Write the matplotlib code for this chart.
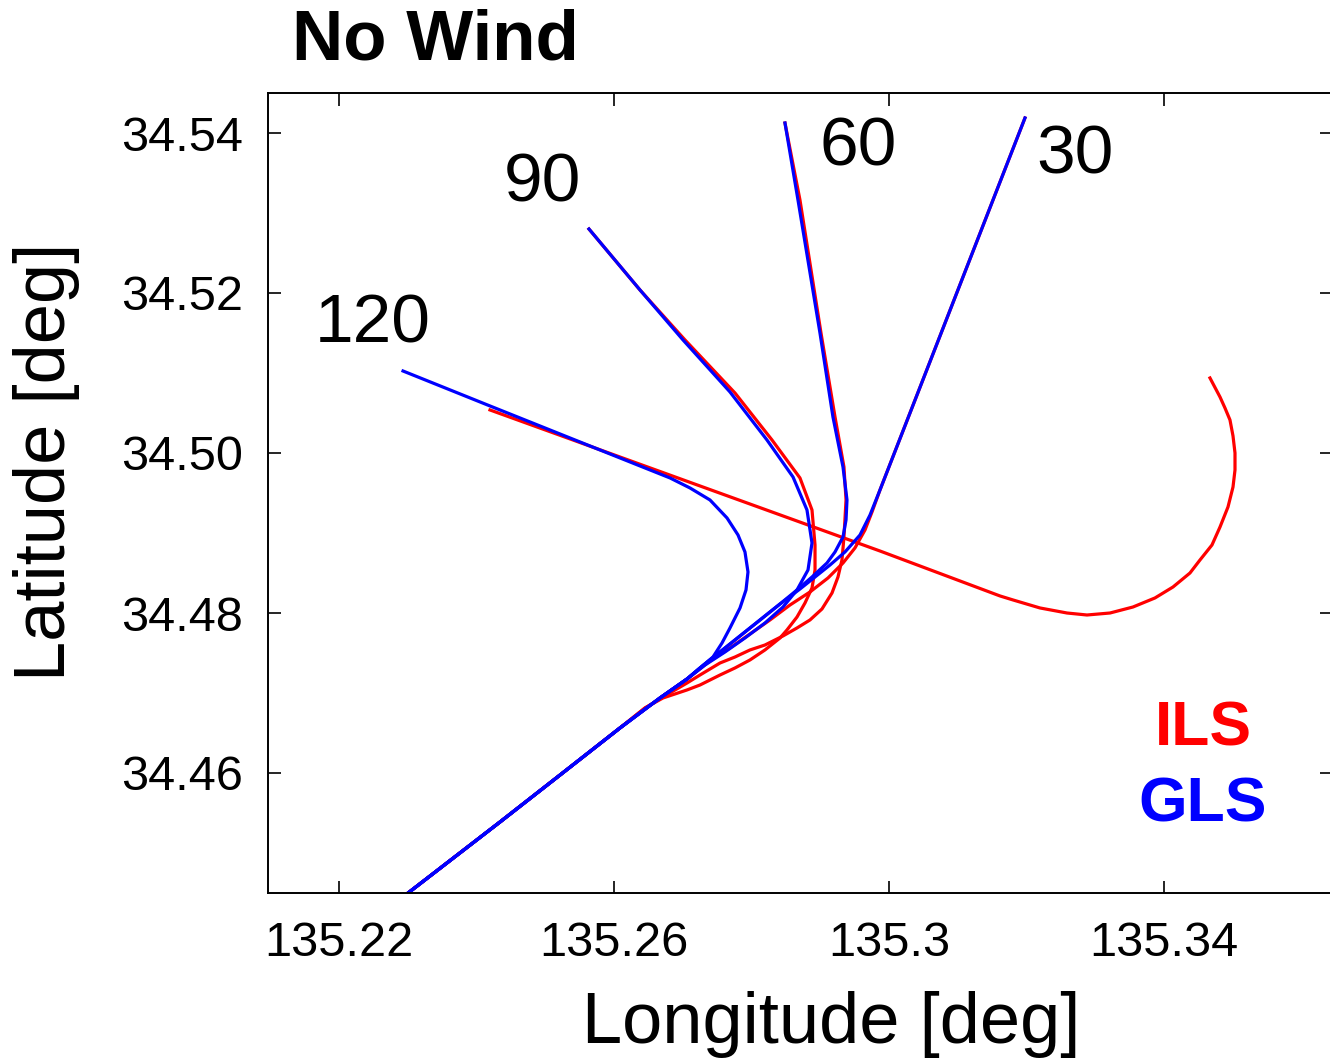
import numpy as np
import matplotlib.pyplot as plt

plt.rcParams['font.family'] = ['Liberation Sans', 'DejaVu Sans']

# shared final approach (from the merge point down past the bottom edge)
approach_lon = [135.27062, 135.26669, 135.26087, 135.25215, 135.24342, 135.23004, 135.22815]
approach_lat = [34.47175, 34.46938, 34.46563, 34.45975, 34.45388, 34.445, 34.44375]

# GLS (blue) trajectories
gls120_lon = [135.22931, 135.24196, 135.25796, 135.26815, 135.27105, 135.27396, 135.27644,
              135.27804, 135.27905, 135.27949, 135.2792, 135.27833, 135.27687, 135.27571,
              135.2744, 135.27251]
gls120_lat = [34.51025, 34.50588, 34.50038, 34.49688, 34.49563, 34.49413, 34.49188,
              34.48975, 34.48763, 34.48513, 34.48288, 34.48063, 34.47813, 34.47625,
              34.4745, 34.47313]

gls90_lon = [135.25636, 135.26378, 135.27004, 135.27687, 135.28225, 135.28604, 135.28807,
             135.2888, 135.28822, 135.28662, 135.28458, 135.28196, 135.27905, 135.27615, 135.27324]
gls90_lat = [34.528, 34.52038, 34.51413, 34.50763, 34.50163, 34.497, 34.49288,
             34.48875, 34.48538, 34.48288, 34.48075, 34.47875, 34.47688, 34.47513, 34.4735]

gls60_lon = [135.28487, 135.28676, 135.28996, 135.29185, 135.29331, 135.29389, 135.29375, 135.29331,
             135.29215, 135.29098, 135.2888, 135.28662, 135.28415, 135.28124, 135.27833, 135.27542, 135.27251]
gls60_lat = [34.54125, 34.53163, 34.515, 34.5045, 34.49825, 34.49413, 34.49163, 34.4895,
             34.48763, 34.48625, 34.4845, 34.48288, 34.48113, 34.47913, 34.47713, 34.47513, 34.47313]

gls30_lon = [135.31978, 135.29869, 135.29724, 135.29578, 135.2936, 135.29142, 135.28924,
             135.28705, 135.28415, 135.28124, 135.27833, 135.27542, 135.27251]
gls30_lat = [34.54188, 34.49538, 34.49225, 34.48975, 34.48763, 34.486, 34.4845,
             34.483, 34.48113, 34.47913, 34.47713, 34.47513, 34.47313]

# ILS (red) trajectories
ils120_lon = [135.24196, 135.27251, 135.29869, 135.31615, 135.31804, 135.32196, 135.32589, 135.3288,
              135.33215, 135.33549, 135.33869, 135.34131, 135.34378, 135.34524, 135.34698, 135.34815,
              135.34931, 135.35004, 135.35033, 135.35033, 135.35004, 135.3496, 135.34887, 135.34815, 135.34669]
ils120_lat = [34.50538, 34.49588, 34.48775, 34.48213, 34.48163, 34.48063, 34.48, 34.47975,
              34.48, 34.48075, 34.48188, 34.48325, 34.485, 34.48663, 34.4885, 34.49075,
              34.49325, 34.49575, 34.49788, 34.5, 34.50213, 34.50413, 34.50563, 34.507, 34.50938]

ils90_lon = [135.25636, 135.26378, 135.27033, 135.2776, 135.28298, 135.28705, 135.2888, 135.28924,
             135.28924, 135.2888, 135.28778, 135.28662, 135.28516, 135.28415, 135.28196, 135.27978,
             135.2776, 135.27542, 135.27251, 135.27062, 135.26713, 135.26451]
ils90_lat = [34.528, 34.52038, 34.51413, 34.5075, 34.50163, 34.49688, 34.49288, 34.4885,
             34.48538, 34.48313, 34.48125, 34.4795, 34.47788, 34.47688, 34.47538, 34.47413,
             34.47313, 34.47225, 34.471, 34.47038, 34.46938, 34.46813]

ils60_lon = [135.28487, 135.28705, 135.29011, 135.29215, 135.29345, 135.29375, 135.29345, 135.29316,
             135.29258, 135.29171, 135.29025, 135.28851, 135.28662, 135.28458, 135.28196, 135.27978,
             135.2776, 135.27542, 135.27251, 135.27062, 135.26713, 135.26451]
ils60_lat = [34.54125, 34.53163, 34.515, 34.5045, 34.49825, 34.49413, 34.4895, 34.48663,
             34.4845, 34.4825, 34.4805, 34.47913, 34.47813, 34.47713, 34.476, 34.47538,
             34.4745, 34.47375, 34.47225, 34.47125, 34.4695, 34.46813]

ils30_lon = [135.31978, 135.29869, 135.29753, 135.29651, 135.29505, 135.29331, 135.29113,
             135.28851, 135.2856, 135.28269, 135.27978, 135.27687, 135.27396]
ils30_lat = [34.54188, 34.49538, 34.49263, 34.49038, 34.48813, 34.48625, 34.48438,
             34.48263, 34.481, 34.47913, 34.47738, 34.47563, 34.474]

angle_labels = ['120', '90', '60', '30']
angle_label_lon = [135.22495, 135.24953, 135.29549, 135.32705]
angle_label_lat = [34.51605, 34.53365, 34.5382, 34.53715]

xticks = [135.22, 135.26, 135.30, 135.34]
xtick_labels = ['135.22', '135.26', '135.3', '135.34']
yticks = [34.46, 34.48, 34.50, 34.52, 34.54]
ytick_labels = ['34.46', '34.48', '34.50', '34.52', '34.54']

RED = '#ff0000'
BLUE = '#0000ff'
LW = 2.3

fig = plt.figure(figsize=(13.3, 10.59), dpi=100)
ax = fig.add_axes([268 / 1330, 1 - 893 / 1059, (1332 - 268) / 1330, (893 - 93) / 1059])

# red first, blue on top
ax.plot(ils120_lon, ils120_lat, color=RED, lw=LW)
ax.plot(ils90_lon + approach_lon[2:], ils90_lat + approach_lat[2:], color=RED, lw=LW)
ax.plot(ils60_lon + approach_lon[2:], ils60_lat + approach_lat[2:], color=RED, lw=LW)
ax.plot(ils30_lon + approach_lon, ils30_lat + approach_lat, color=RED, lw=LW)

ax.plot(gls120_lon + approach_lon, gls120_lat + approach_lat, color=BLUE, lw=LW)
ax.plot(gls90_lon + approach_lon, gls90_lat + approach_lat, color=BLUE, lw=LW)
ax.plot(gls60_lon + approach_lon, gls60_lat + approach_lat, color=BLUE, lw=LW)
ax.plot(gls30_lon + approach_lon, gls30_lat + approach_lat, color=BLUE, lw=LW)

for lab, lx, ly in zip(angle_labels, angle_label_lon, angle_label_lat):
    ax.text(lx, ly, lab, fontsize=50, ha='center', va='center')

ax.set_xlim(135.20967, 135.36444)
ax.set_ylim(34.445, 34.545)
ax.set_xticks(xticks)
ax.set_xticklabels(xtick_labels)
ax.set_yticks(yticks)
ax.set_yticklabels(ytick_labels)
ax.tick_params(direction='in', top=True, right=True, length=9, width=1.2, labelsize=35)
ax.tick_params(axis='x', pad=20)
ax.tick_params(axis='y', pad=18)
for sp in ax.spines.values():
    sp.set_linewidth(1.4)

fig.text(831 / 1330, 1 - 1024 / 1059, 'Longitude [deg]', fontsize=52, ha='center', va='center')
fig.text(47 / 1330, 1 - 462 / 1059, 'Latitude [deg]', fontsize=52, ha='center', va='center', rotation=90)
fig.text(292 / 1330, 1 - 42 / 1059, 'No Wind', fontsize=51, fontweight='bold', ha='left', va='center')

fig.text(1203 / 1330, 1 - 729 / 1059, 'ILS', fontsize=45, fontweight='bold', color=RED, ha='center', va='center')
fig.text(1203 / 1330, 1 - 805 / 1059, 'GLS', fontsize=45, fontweight='bold', color=BLUE, ha='center', va='center')

fig.savefig('out.png', dpi=100)
